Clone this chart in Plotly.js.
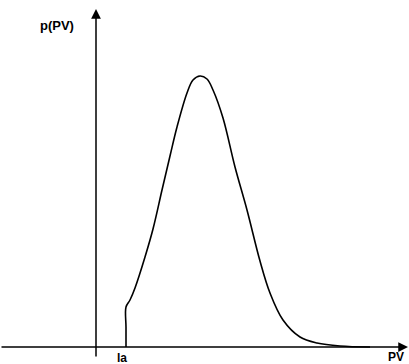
<!DOCTYPE html>
<html><head><meta charset="utf-8">
<script src="https://cdn.plot.ly/plotly-3.0.1.min.js"></script>
<style>html,body{margin:0;padding:0;background:#fff}#c{width:409px;height:364px}</style>
</head><body><div id="c"></div>
<script>
// PV values (arbitrary units) and density p(PV)
const pv = [30, 30, 30, 34, 39, 49, 57, 66, 74, 81, 91, 97, 104, 111, 117, 127, 139, 151, 164, 174, 187, 204, 221, 244, 274];
const density = [0, 20, 40, 47, 59, 90, 118, 157, 191, 220, 254, 267, 271, 268, 257, 229, 180, 137, 86, 54, 27, 10, 4, 1, 0];
const laValue = 30;
const xLabel = "PV";
const yLabel = "p(PV)";
const laLabel = "la";

const font = {family: "Liberation Sans, Arial, sans-serif", size: 12, color: "#000"};
const trace = {
  x: pv, y: density, type: "scatter", mode: "lines",
  line: {color: "#000", width: 1.6, shape: "spline", smoothing: 1},
  hoverinfo: "skip"
};
const layout = {
  width: 409, height: 364,
  margin: {l: 0, r: 0, t: 0, b: 0},
  paper_bgcolor: "#fff", plot_bgcolor: "#fff",
  showlegend: false,
  xaxis: {range: [-96, 313], visible: false, fixedrange: true},
  yaxis: {range: [-17, 347], visible: false, fixedrange: true},
  annotations: [
    {x: 312, y: 0, ax: -96, ay: 0, axref: "x", ayref: "y", xref: "x", yref: "y",
     text: "", showarrow: true, arrowhead: 2, arrowsize: 1.3, arrowwidth: 1.5, arrowcolor: "#000"},
    {x: 0, y: 338, ax: 0, ay: -11, axref: "x", ayref: "y", xref: "x", yref: "y",
     text: "", showarrow: true, arrowhead: 2, arrowsize: 1.3, arrowwidth: 1.5, arrowcolor: "#000"},
    {x: 300, y: 0, xref: "x", yref: "y", text: "<b>" + xLabel + "</b>", showarrow: false,
     font: font, yanchor: "top", yshift: -1},
    {x: -39, y: 322, xref: "x", yref: "y", text: "<b>" + yLabel + "</b>", showarrow: false,
     font: {family: font.family, size: 13, color: "#000"}},
    {x: laValue - 4, y: 0, xref: "x", yref: "y", text: "<b>" + laLabel + "</b>", showarrow: false,
     font: font, yanchor: "top", yshift: -2}
  ]
};
Plotly.newPlot("c", [trace], layout, {staticPlot: true, displayModeBar: false});
</script></body></html>
